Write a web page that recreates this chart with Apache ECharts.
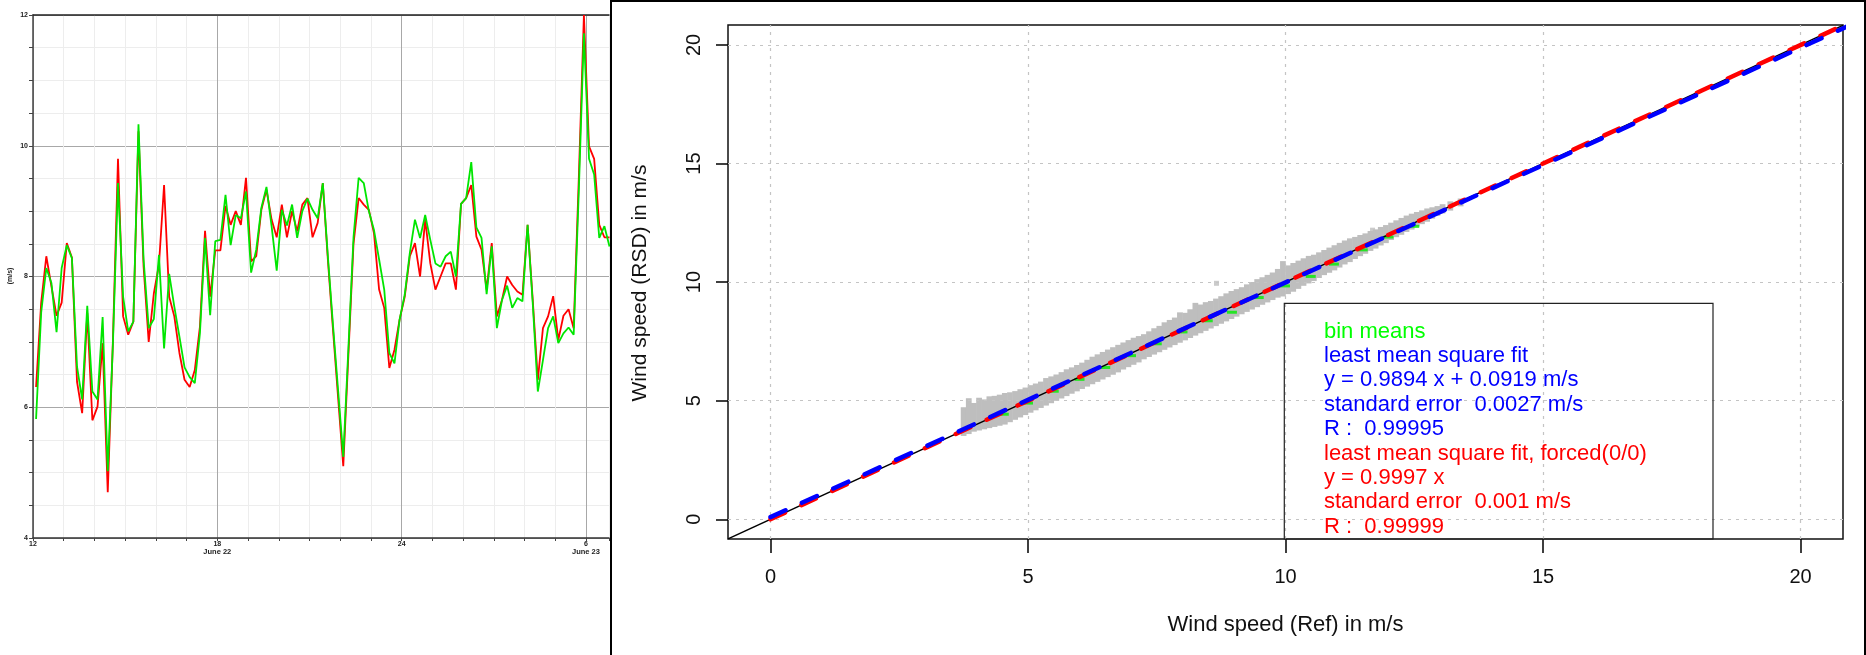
<!DOCTYPE html>
<html><head><meta charset="utf-8">
<script src="https://cdn.jsdelivr.net/npm/echarts@6/dist/echarts.min.js"></script>
<style>html,body{margin:0;padding:0;background:#fff;}#c{width:1866px;height:655px;}</style>
</head><body><div id="c"></div>
<script>
// ---------- Left chart: 10-minute wind speed time series (m/s) ----------
const redSpeed = [6.31,7.60,8.31,7.85,7.40,7.60,8.51,8.29,6.39,5.91,7.44,5.80,6.01,6.98,4.70,7.00,9.80,7.39,7.11,7.31,
10.22,8.15,7.00,7.74,8.18,9.40,7.69,7.39,6.83,6.42,6.31,6.57,7.23,8.70,7.69,8.40,8.40,9.08,8.79,9.00,
8.79,9.51,8.23,8.31,9.02,9.33,8.87,8.60,9.10,8.60,9.00,8.69,9.10,9.20,8.60,8.82,9.43,8.25,7.18,6.14,
5.10,6.80,8.50,9.20,9.10,9.02,8.66,7.80,7.52,6.60,6.88,7.34,7.69,8.31,8.51,8.00,8.87,8.20,7.80,8.00,
8.20,8.20,7.80,9.11,9.20,9.40,8.61,8.41,7.80,8.51,7.39,7.64,8.00,7.87,7.77,7.72,8.79,7.65,6.42,7.21,
7.39,7.70,7.03,7.40,7.50,7.21,9.50,12.00,9.99,9.80,8.79,8.60,8.60];
const greenSpeed = [5.82,7.45,8.13,7.90,7.15,8.13,8.48,8.28,6.62,6.12,7.55,6.24,6.12,7.38,5.02,6.95,9.43,7.69,7.16,7.31,
10.33,8.26,7.21,7.35,8.33,6.90,8.04,7.54,7.08,6.61,6.46,6.37,7.13,8.59,7.41,8.54,8.56,9.25,8.48,8.94,
8.89,9.30,8.06,8.41,9.05,9.37,8.77,8.09,9.02,8.78,9.10,8.59,9.00,9.19,9.02,8.89,9.43,8.30,7.25,6.25,
5.24,6.90,8.60,9.51,9.43,9.00,8.71,8.26,7.80,6.83,6.67,7.34,7.72,8.36,8.87,8.59,8.94,8.56,8.20,8.15,
8.31,8.38,8.00,9.11,9.20,9.75,8.75,8.59,7.73,8.46,7.21,7.64,7.86,7.52,7.67,7.62,8.79,7.60,6.24,6.72,
7.21,7.39,6.98,7.13,7.22,7.11,9.30,11.72,9.80,9.56,8.59,8.77,8.46];
// sample times: minutes after 12:00 (10-minute records)
const sampleMinutes = redSpeed.map((_, i) => 6 + 10 * i);
const timeLabels = {0: '12', 360: '18\n{d|June 22}', 720: '24', 1080: '6\n{d|June 23}'};
const leftYLabels = [4, 6, 8, 10, 12];

// ---------- Right chart: scatter RSD vs reference ----------
const xTicks = [0, 5, 10, 15, 20];
const yTicks = [0, 5, 10, 15, 20];
// gray point cloud read as vertical columns: [x, lowest y, highest y]
const cloudColumns = [
[3.75,3.62,4.62],[3.85,3.70,5.00],[3.95,3.80,4.80],[4.05,3.85,5.02],[4.15,3.90,4.95],[4.25,3.95,5.08],
[4.35,4.00,5.10],[4.45,4.05,5.15],[4.55,4.10,5.22],[4.65,4.20,5.25],[4.75,4.30,5.30],[4.85,4.40,5.38],
[4.95,4.50,5.45],[5.05,4.60,5.55],[5.15,4.70,5.62],[5.25,4.80,5.70],[5.35,4.90,5.85],[5.45,5.00,5.92],
[5.55,5.10,6.00],[5.65,5.20,6.10],[5.75,5.30,6.22],[5.85,5.40,6.30],[5.95,5.50,6.40],[6.05,5.60,6.50],
[6.15,5.70,6.62],[6.25,5.80,6.75],[6.35,5.90,6.85],[6.45,6.00,6.95],[6.55,6.10,7.05],[6.65,6.20,7.15],
[6.75,6.30,7.25],[6.85,6.42,7.35],[6.95,6.52,7.45],[7.05,6.62,7.55],[7.15,6.72,7.62],[7.25,6.85,7.70],
[7.35,6.95,7.82],[7.45,7.05,7.95],[7.55,7.15,8.05],[7.65,7.25,8.20],[7.75,7.35,8.30],[7.85,7.45,8.40],
[7.95,7.55,8.62],[8.05,7.65,8.60],[8.15,7.75,8.75],[8.25,7.85,9.02],[8.35,7.95,8.95],[8.45,8.05,9.05],
[8.55,8.15,9.10],[8.65,8.25,9.20],[8.75,8.35,9.30],[8.85,8.45,9.42],[8.95,8.55,9.52],[9.05,8.65,9.60],
[9.15,8.75,9.68],[9.25,8.85,9.80],[9.35,8.95,9.90],[9.45,9.05,10.02],[9.55,9.15,10.10],[9.65,9.25,10.20],
[9.75,9.35,10.30],[9.85,9.45,10.45],[9.95,9.50,10.78],[10.05,9.60,10.60],[10.15,9.70,10.70],[10.25,9.82,10.80],
[10.35,9.95,10.90],[10.45,10.05,11.00],[10.55,10.15,11.05],[10.65,10.28,11.15],[10.75,10.40,11.25],[10.85,10.50,11.35],
[10.95,10.60,11.45],[11.05,10.72,11.55],[11.15,10.85,11.65],[11.25,10.95,11.74],[11.35,11.08,11.80],[11.45,11.20,11.88],
[11.55,11.30,11.95],[11.65,11.42,12.05],[11.75,11.52,12.12],[11.85,11.65,12.22],[11.95,11.75,12.30],[12.05,11.88,12.40],
[12.15,12.00,12.50],[12.25,12.10,12.60],[12.35,12.22,12.70],[12.45,12.32,12.78],[12.55,12.45,12.85],[12.65,12.55,12.92],
[12.75,12.65,13.00],[12.85,12.78,13.05],[12.95,12.90,13.10],[13.05,13.00,13.18],[13.20,13.12,13.30],[13.40,13.30,13.42]];
const cloudColumnWidth = 0.1;
const cloudOutliers = [[8.66, 9.95], [11.69, 12.19]];
const binMeansX = [4.53, 5.0, 5.5, 6.0, 6.5, 7.0, 7.5, 8.0, 8.49, 8.96, 9.48, 9.99, 10.49, 10.94, 11.5, 12.0, 12.5];
const binMeansY = [4.43, 4.9, 5.4, 5.9, 6.4, 6.9, 7.4, 7.9, 8.37, 8.73, 9.35, 9.84, 10.24, 10.76, 11.36, 11.9, 12.35];
const fitFree = {slope: 0.9894, intercept: 0.0919};
const fitForced = {slope: 0.9997, intercept: 0};
const fitXRange = [0, 21];
const legendLines = [
 ['bin means', '#00ff00'],
 ['least mean square fit', '#0000ff'],
 ['y = 0.9894 x + 0.0919 m/s', '#0000ff'],
 ['standard error  0.0027 m/s', '#0000ff'],
 ['R :  0.99995', '#0000ff'],
 ['least mean square fit, forced(0/0)', '#ff0000'],
 ['y = 0.9997 x', '#ff0000'],
 ['standard error  0.001 m/s', '#ff0000'],
 ['R :  0.99999', '#ff0000']
];
const X2 = {min: -0.825, max: 20.825};
const Y2 = {min: -0.83, max: 20.84};

const FONT = '"Liberation Sans", Arial, sans-serif';
const chart = echarts.init(document.getElementById('c'), null, {width: 1866, height: 655});

const fitLine = f => fitXRange.map(x => [x, f.slope * x + f.intercept]);

const graphics = [];
graphics.push({type: 'rect', shape: {x: 611, y: 1, width: 1254, height: 700}, style: {fill: 'none', stroke: '#000', lineWidth: 2}, z: 100});
graphics.push({type: 'rect', shape: {x: 1284.3, y: 303.3, width: 428.7, height: 235.7}, style: {fill: 'none', stroke: '#222', lineWidth: 1.2}, z: 50});
legendLines.forEach((l, k) => graphics.push({type: 'text', x: 1324, y: 331.7 + 24.35 * k,
  style: {text: l[0], fill: l[1], font: '22px ' + FONT, align: 'left', verticalAlign: 'middle'}, z: 51}));
graphics.push({type: 'text', x: 1285.5, y: 625, style: {text: 'Wind speed (Ref) in m/s', fill: '#111', font: '22px ' + FONT, align: 'center', verticalAlign: 'middle'}});
graphics.push({type: 'text', x: 640.5, y: 283, rotation: Math.PI / 2, style: {text: 'Wind speed (RSD) in m/s', fill: '#111', font: '21px ' + FONT, align: 'center', verticalAlign: 'middle'}});
graphics.push({type: 'text', x: 10, y: 276, rotation: Math.PI / 2, style: {text: '(m/s)', fill: '#222', font: 'bold 7px ' + FONT, align: 'center', verticalAlign: 'middle'}});

const option = {
  animation: false,
  backgroundColor: '#fff',
  grid: [
    {left: 33, top: 15, width: 576, height: 523, show: false},
    {left: 728, top: 25, width: 1115, height: 514, show: true, borderColor: '#111', borderWidth: 1.5, backgroundColor: 'transparent'}
  ],
  xAxis: [
    {gridIndex: 0, type: 'value', min: 0, max: 1125, interval: 60, position: 'bottom',
     axisLine: {show: true, onZero: false, lineStyle: {color: '#333', width: 1.5}},
     axisTick: {show: true, length: 3, lineStyle: {color: '#444'}},
     axisLabel: {show: true, margin: 3, fontSize: 7, fontWeight: 'bold', color: '#222', fontFamily: FONT, lineHeight: 7,
       formatter: v => timeLabels[v] !== undefined ? timeLabels[v] : '',
       rich: {d: {fontSize: 7.5, fontWeight: 'bold', color: '#222', fontFamily: FONT, lineHeight: 8}}},
     splitLine: {show: true, lineStyle: {color: ['#a8a8a8', '#ededed', '#ededed', '#ededed', '#ededed', '#ededed'], width: 1}}},
    {gridIndex: 0, type: 'value', min: 0, max: 1125, position: 'top',
     axisLine: {show: true, onZero: false, lineStyle: {color: '#222', width: 1.5}},
     axisTick: {show: false}, axisLabel: {show: false}, splitLine: {show: false}},
    {gridIndex: 1, type: 'value', min: X2.min, max: X2.max, position: 'bottom',
     axisLine: {show: false, onZero: false},
     axisTick: {show: true, length: 14, customValues: xTicks, lineStyle: {color: '#000', width: 1.5}},
     axisLabel: {show: true, customValues: xTicks, margin: 28, fontSize: 20, color: '#111', fontFamily: FONT},
     splitLine: {show: false}}
  ],
  yAxis: [
    {gridIndex: 0, type: 'value', min: 4, max: 12, interval: 0.5,
     axisLine: {show: true, onZero: false, lineStyle: {color: '#444', width: 1.5}},
     axisTick: {show: true, length: 4, lineStyle: {color: '#444'}},
     axisLabel: {show: true, margin: 5, fontSize: 7, fontWeight: 'bold', color: '#222', fontFamily: FONT,
       formatter: v => leftYLabels.indexOf(v) >= 0 ? String(v) : ''},
     splitLine: {show: true, lineStyle: {color: ['#a8a8a8', '#ededed', '#ededed', '#ededed'], width: 1}}},
    {gridIndex: 1, type: 'value', min: Y2.min, max: Y2.max, position: 'left',
     axisLine: {show: false, onZero: false},
     axisTick: {show: true, length: 12, customValues: yTicks, lineStyle: {color: '#000', width: 1.5}},
     axisLabel: {show: true, customValues: yTicks, rotate: 90, margin: 24, fontSize: 20, color: '#111', fontFamily: FONT},
     splitLine: {show: false}}
  ],
  series: [
    {type: 'line', xAxisIndex: 0, yAxisIndex: 0, data: sampleMinutes.map((t, i) => [t, redSpeed[i]]),
     showSymbol: false, lineStyle: {color: '#ff0000', width: 1.8}, itemStyle: {color: '#ff0000'}, z: 3},
    {type: 'line', xAxisIndex: 0, yAxisIndex: 0, data: sampleMinutes.map((t, i) => [t, greenSpeed[i]]),
     showSymbol: false, lineStyle: {color: '#00e600', width: 1.8}, itemStyle: {color: '#00e600'}, z: 4},
    // dotted grid of right panel
    {type: 'line', xAxisIndex: 2, yAxisIndex: 1, data: [], silent: true, z: 1,
     markLine: {silent: true, symbol: 'none', label: {show: false},
       lineStyle: {color: '#c4c4c4', width: 1.2, type: [3, 5]},
       data: xTicks.map(v => ({xAxis: v})).concat(yTicks.map(v => ({yAxis: v})))}},
    // gray cloud
    {type: 'custom', xAxisIndex: 2, yAxisIndex: 1, z: 2, silent: true,
     data: cloudColumns,
     renderItem: (params, api) => {
       const x = api.value(0), lo = api.value(1), hi = api.value(2);
       const p1 = api.coord([x - cloudColumnWidth / 2, hi]);
       const p2 = api.coord([x + cloudColumnWidth / 2, lo]);
       return {type: 'rect', shape: {x: p1[0] - 0.3, y: p1[1] - 2.5, width: p2[0] - p1[0] + 0.6, height: p2[1] - p1[1] + 5},
               style: {fill: '#bebebe'}};
     }},
    {type: 'scatter', xAxisIndex: 2, yAxisIndex: 1, data: cloudOutliers, symbol: 'rect', symbolSize: 5,
     itemStyle: {color: '#bebebe'}, z: 2, silent: true},
    {type: 'scatter', xAxisIndex: 2, yAxisIndex: 1, data: binMeansX.map((x, i) => [x, binMeansY[i]]),
     symbol: 'rect', symbolSize: [10, 3], itemStyle: {color: '#00ee00'}, z: 3, silent: true},
    {type: 'line', xAxisIndex: 2, yAxisIndex: 1, data: [[X2.min, X2.min], [X2.max, X2.max]],
     showSymbol: false, lineStyle: {color: '#000', width: 1.6}, z: 4, silent: true},
    {type: 'line', xAxisIndex: 2, yAxisIndex: 1, data: fitLine(fitForced),
     showSymbol: false, lineStyle: {color: '#ff0000', width: 4.5, type: [16, 18], cap: 'round'}, z: 5, silent: true},
    {type: 'line', xAxisIndex: 2, yAxisIndex: 1, data: fitLine(fitFree),
     showSymbol: false, lineStyle: {color: '#0000ff', width: 4.5, type: [16.5, 18], cap: 'round'}, z: 6, silent: true}
  ],
  graphic: graphics
};
chart.setOption(option);
</script></body></html>
